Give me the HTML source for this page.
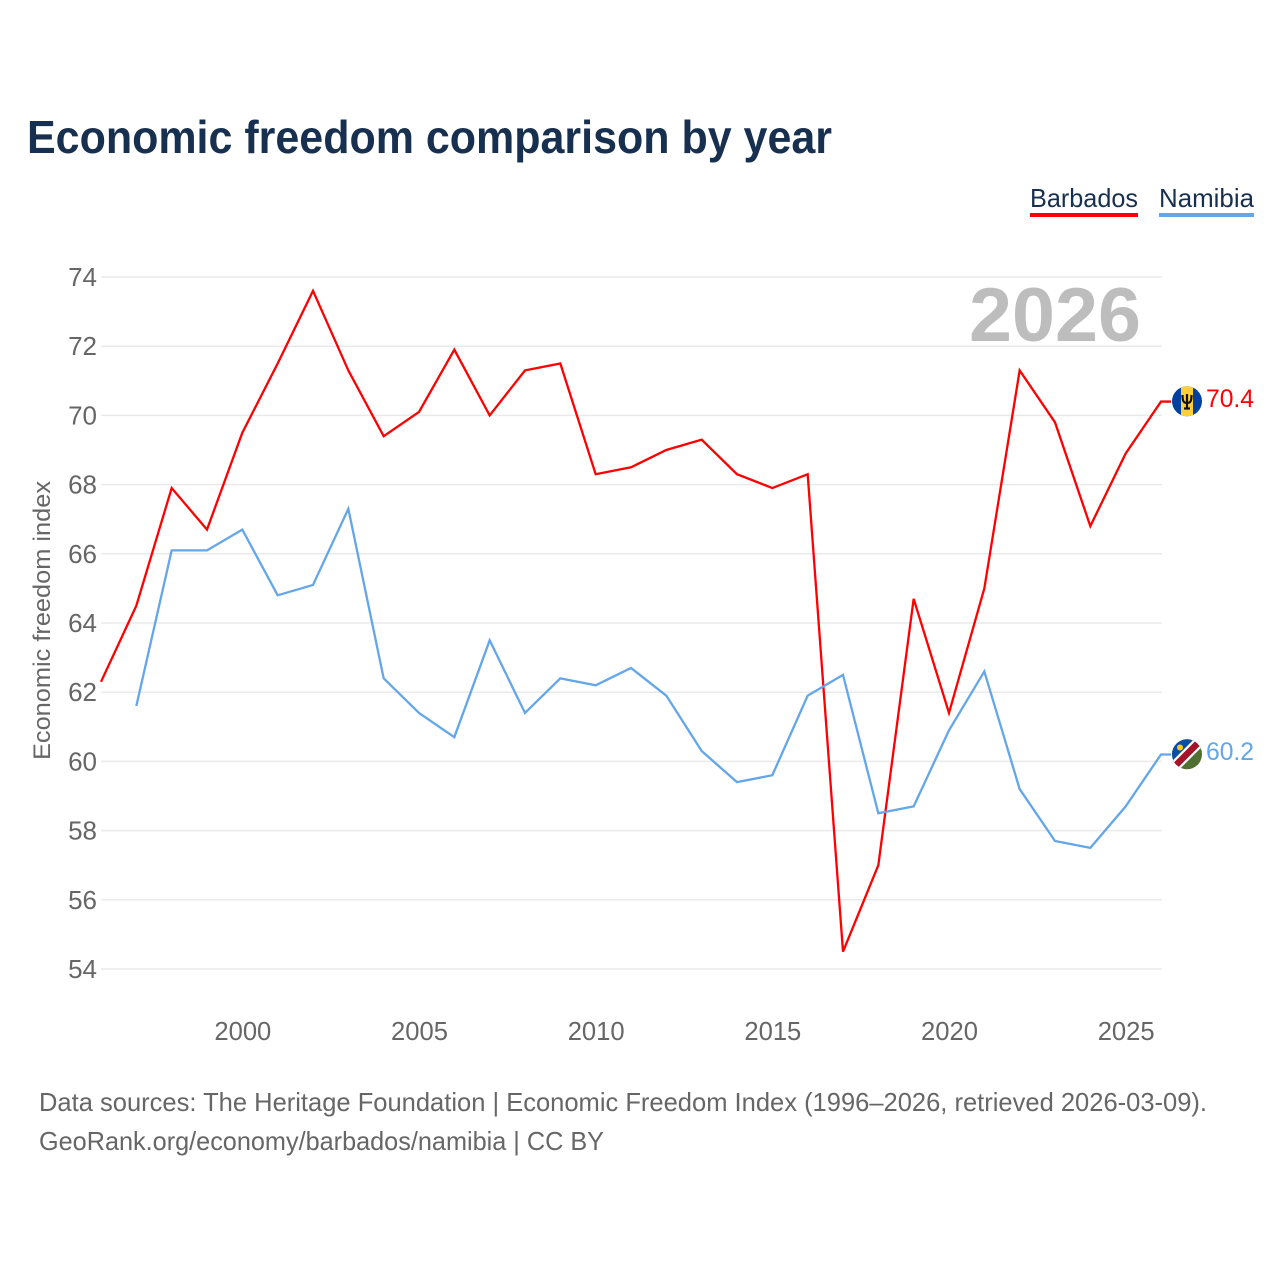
<!DOCTYPE html>
<html lang="en">
<head>
<meta charset="utf-8">
<title>Economic freedom comparison by year</title>
<style>
html,body{margin:0;padding:0;background:#fff;width:1280px;height:1280px;overflow:hidden}
svg{display:block}
text{font-family:"Liberation Sans",sans-serif}
</style>
</head>
<body>
<svg id="chart" xmlns="http://www.w3.org/2000/svg" width="1280" height="1280" viewBox="0 0 1280 1280">
  <defs>
    <clipPath id="flag-clip-b"><circle cx="1187" cy="401.3" r="15"/></clipPath>
    <clipPath id="flag-clip-n"><circle cx="1187" cy="754.3" r="15"/></clipPath>
  </defs>
  <rect x="0" y="0" width="1280" height="1280" fill="#fff"/>
  <text x="27" y="153" font-size="46" font-weight="700" fill="#18304f" textLength="805" lengthAdjust="spacingAndGlyphs">Economic freedom comparison by year</text>

  <g>
    <g>
      <text x="1030" y="207" font-size="26" fill="#18304f" textLength="108" lengthAdjust="spacingAndGlyphs">Barbados</text>
      <rect x="1030" y="213" width="108" height="4" fill="#ff0000"/>
    </g>
    <g>
      <text x="1159" y="207" font-size="26" fill="#18304f" textLength="95" lengthAdjust="spacingAndGlyphs">Namibia</text>
      <rect x="1159" y="213" width="95" height="4" fill="#63a6ea"/>
    </g>
  </g>

  <text transform="translate(50,760) rotate(-90)" font-size="24.5" fill="#666" textLength="279" lengthAdjust="spacingAndGlyphs">Economic freedom index</text>
  <g id="grid"></g>
  <g id="yticks"></g>
  <g id="xticks"></g>

  <text x="1141" y="341" text-anchor="end" font-size="76" font-weight="700" fill="#bdbdbd" textLength="172" lengthAdjust="spacingAndGlyphs">2026</text>

  <g id="series"></g>

  <g clip-path="url(#flag-clip-b)">
    <rect x="1172" y="386" width="30" height="31" fill="#00419f"/>
    <rect x="1181" y="386" width="12" height="31" fill="#ffcf3a"/>
    <path d="M1187 394v14M1182.5 395c0 6 1 8 4.5 8s4.5-2 4.5-8M1184 408.5h6" fill="none" stroke="#111" stroke-width="2.2"/>
  </g>
  <g clip-path="url(#flag-clip-n)">
    <rect x="1172" y="739" width="30" height="31" fill="#4f7030"/>
    <path d="M1172 739h30L1172 769z" fill="#0b4ea2"/>
    <path d="M1203 738L1171 770" stroke="#fff" stroke-width="11"/>
    <path d="M1203 738L1171 770" stroke="#a6142c" stroke-width="6.5"/>
    <circle cx="1180" cy="747.5" r="3" fill="#ffce00"/>
  </g>

  <text x="1206" y="407" font-size="25" fill="#ff0000" textLength="48" lengthAdjust="spacingAndGlyphs">70.4</text>
  <text x="1206" y="760" font-size="25" fill="#63a6ea" textLength="48" lengthAdjust="spacingAndGlyphs">60.2</text>

  <text x="39" y="1111" font-size="26" fill="#666" textLength="1168" lengthAdjust="spacingAndGlyphs">Data sources: The Heritage Foundation | Economic Freedom Index (1996–2026, retrieved 2026-03-09).</text>
  <text x="39" y="1150" font-size="26" fill="#666" textLength="565" lengthAdjust="spacingAndGlyphs">GeoRank.org/economy/barbados/namibia | CC BY</text>
</svg>
<script>
const years = [1996,1997,1998,1999,2000,2001,2002,2003,2004,2005,2006,2007,2008,2009,2010,2011,2012,2013,2014,2015,2016,2017,2018,2019,2020,2021,2022,2023,2024,2025,2026];
const barbadosValues = [62.3,64.5,67.9,66.7,69.5,71.5,73.6,71.3,69.4,70.1,71.9,70.0,71.3,71.5,68.3,68.5,69.0,69.3,68.3,67.9,68.3,54.5,57.0,64.7,61.4,65.0,71.3,69.8,66.8,68.9,70.4];
const namibiaValues = [null,61.6,66.1,66.1,66.7,64.8,65.1,67.3,62.4,61.4,60.7,63.5,61.4,62.4,62.2,62.7,61.9,60.3,59.4,59.6,61.9,62.5,58.5,58.7,60.9,62.6,59.2,57.7,57.5,58.7,60.2];
const yTickValues = [54,56,58,60,62,64,66,68,70,72,74];
const xTickValues = [2000,2005,2010,2015,2020,2025];

const NS = 'http://www.w3.org/2000/svg';
function xScale(year){ return 101 + (year - 1996) * (1161 - 101) / 30; }
function yScale(v){ return 969 - (v - 54) * (969 - 277) / 20; }

const grid = document.getElementById('grid');
const yticks = document.getElementById('yticks');
const xticks = document.getElementById('xticks');
const series = document.getElementById('series');

yTickValues.forEach(function(v){
  const line = document.createElementNS(NS, 'line');
  
  
  line.setAttribute('x1', 101);
  line.setAttribute('x2', 1162);
  line.setAttribute('y1', yScale(v));
  line.setAttribute('y2', yScale(v));
  line.setAttribute('stroke', '#eaeaea');
  line.setAttribute('stroke-width', 1.5);
  grid.appendChild(line);

  const t = document.createElementNS(NS, 'text');
  
  
  t.setAttribute('x', 97);
  t.setAttribute('y', yScale(v) + 9);
  t.setAttribute('text-anchor', 'end');
  t.setAttribute('font-size', 26);
  t.setAttribute('fill', '#666');
  t.textContent = v;
  yticks.appendChild(t);
});

xTickValues.forEach(function(year){
  const t = document.createElementNS(NS, 'text');
  
  
  t.setAttribute('x', xScale(year) + 0.5);
  t.setAttribute('y', 1040);
  t.setAttribute('text-anchor', 'middle');
  t.setAttribute('font-size', 25.6);
  t.setAttribute('fill', '#666');
  t.textContent = year;
  xticks.appendChild(t);
});

function linePath(values){
  let d = '';
  values.forEach(function(v, i){
    if (v === null) return;
    d += (d ? 'L' : 'M') + xScale(years[i]).toFixed(2) + ' ' + yScale(v).toFixed(2);
  });
  // short flat connector from the last point toward the flag marker
  const last = values[values.length - 1];
  d += 'L' + (xScale(years[years.length - 1]) + 10).toFixed(2) + ' ' + yScale(last).toFixed(2);
  return d;
}

const barbadosLine = document.createElementNS(NS, 'path');


barbadosLine.setAttribute('d', linePath(barbadosValues));
barbadosLine.setAttribute('fill', 'none');
barbadosLine.setAttribute('stroke', '#ff0000');
barbadosLine.setAttribute('stroke-width', 2.3);
series.appendChild(barbadosLine);

const namibiaLine = document.createElementNS(NS, 'path');


namibiaLine.setAttribute('d', linePath(namibiaValues));
namibiaLine.setAttribute('fill', 'none');
namibiaLine.setAttribute('stroke', '#63a6ea');
namibiaLine.setAttribute('stroke-width', 2.3);
series.appendChild(namibiaLine);
</script>
</body>
</html>
